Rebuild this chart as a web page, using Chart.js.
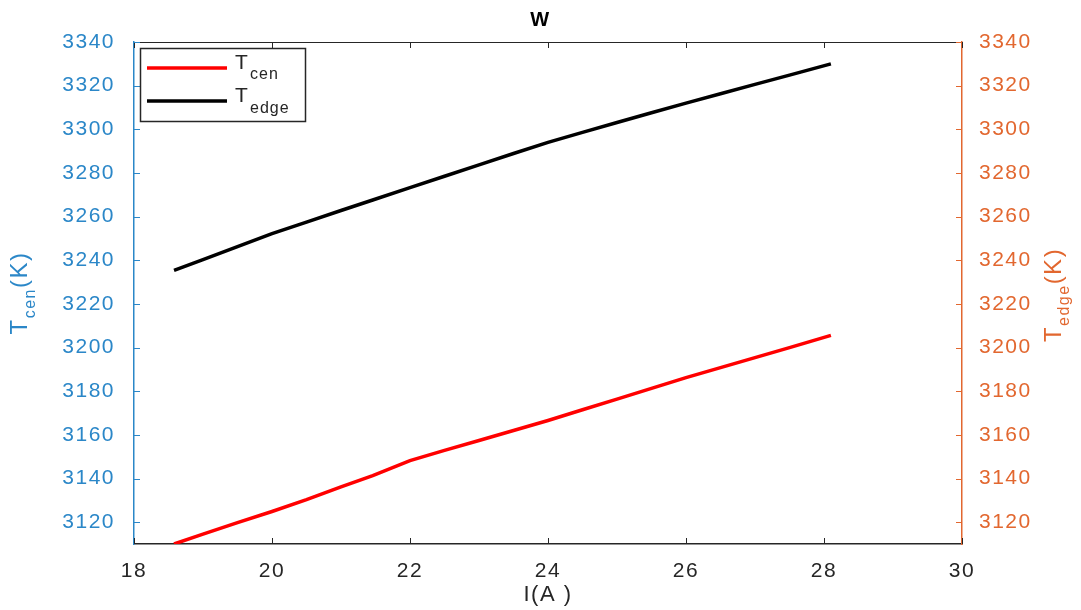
<!DOCTYPE html>
<html>
<head>
<meta charset="utf-8">
<title>W</title>
<script src="https://cdn.jsdelivr.net/npm/chart.js@4.4.1/dist/chart.umd.min.js"></script>
<style>
  html, body { margin: 0; padding: 0; background: #fff; }
  #chart { display: block; }
</style>
</head>
<body>
<canvas id="chart" width="1081" height="610"></canvas>
<script>
// current I(A)
const current = [18.58, 19, 19.5, 20, 20.5, 21, 21.46, 22, 22.5, 23, 23.5, 24, 24.5, 25, 25.5, 26, 26.5, 27, 27.5, 28.1];
// T_cen (K), left axis
const tCen = [3110, 3114.5, 3119.8, 3124.9, 3130.3, 3136.2, 3141.3, 3148.2, 3152.9, 3157.4, 3162.0, 3166.6, 3171.5, 3176.4, 3181.3, 3186.2, 3190.8, 3195.4, 3200.0, 3205.6];
// T_edge (K), right axis
const tEdge = [3235.4, 3240.3, 3246.2, 3252.2, 3257.5, 3262.8, 3267.6, 3273.3, 3278.5, 3283.7, 3288.9, 3294.0, 3298.6, 3303.1, 3307.6, 3312.0, 3316.3, 3320.6, 3324.8, 3330.0];

const xTicks = [18, 20, 22, 24, 26, 28, 30];
const yTicks = [3120, 3140, 3160, 3180, 3200, 3220, 3240, 3260, 3280, 3300, 3320, 3340];

const FONT = '"Liberation Sans", Arial, Helvetica, sans-serif';
const AXIS_GRAY = '#262626';
const LEFT_BLUE = '#2b87c8';
const RIGHT_ORANGE = '#e2672f';

const toPoints = (xs, ys) => xs.map((x, i) => ({x: x, y: ys[i]}));
const setTicks = list => scale => { scale.ticks = list.map(v => ({value: v})); };
const plain = v => String(v);

// draws main + subscript + tail, rotated, centred on (cx, cy)
function drawSubText(ctx, cx, cy, main, sub, tail, color) {
    ctx.save();
    ctx.translate(cx, cy);
    ctx.rotate(-Math.PI / 2);
    ctx.fillStyle = color;
    ctx.textBaseline = 'alphabetic';
    ctx.textAlign = 'left';
    ctx.letterSpacing = '1.5px';
    const big = '24px ' + FONT;
    const small = '16px ' + FONT;
    ctx.font = big;
    const wMain = ctx.measureText(main).width;
    const wTail = ctx.measureText(tail).width;
    ctx.font = small;
    const wSub = ctx.measureText(sub).width;
    let x = -(wMain + wSub + wTail) / 2;
    ctx.font = big;
    ctx.fillText(main, x, 0);
    x += wMain;
    ctx.font = small;
    ctx.fillText(sub, x, 8);
    x += wSub;
    ctx.font = big;
    ctx.fillText(tail, x, 0);
    ctx.restore();
}

const matlabFrame = {
    id: 'matlabFrame',
    beforeDraw(chart) {
        chart.ctx.letterSpacing = '1.5px';
    },
    afterDraw(chart) {
        const ctx = chart.ctx;
        const a = chart.chartArea;
        const xs = chart.scales.x, yl = chart.scales.y, yr = chart.scales.y2;
        const tick = 6;

        ctx.save();
        ctx.lineWidth = 1;
        // top box line
        ctx.strokeStyle = AXIS_GRAY;
        ctx.beginPath();
        ctx.moveTo(a.left, a.top + 0.5);
        ctx.lineTo(a.right, a.top + 0.5);
        ctx.stroke();
        // inward x ticks, bottom and top
        xTicks.forEach(v => {
            const px = Math.round(xs.getPixelForValue(v)) + 0.5;
            ctx.beginPath();
            ctx.moveTo(px, a.bottom);
            ctx.lineTo(px, a.bottom - tick);
            ctx.moveTo(px, a.top);
            ctx.lineTo(px, a.top + tick);
            ctx.stroke();
        });
        // inward y ticks
        yTicks.forEach(v => {
            const py = Math.round(yl.getPixelForValue(v)) + 0.5;
            ctx.strokeStyle = LEFT_BLUE;
            ctx.beginPath();
            ctx.moveTo(a.left, py);
            ctx.lineTo(a.left + tick, py);
            ctx.stroke();
            const pr = Math.round(yr.getPixelForValue(v)) + 0.5;
            ctx.strokeStyle = RIGHT_ORANGE;
            ctx.beginPath();
            ctx.moveTo(a.right, pr);
            ctx.lineTo(a.right - tick, pr);
            ctx.stroke();
        });

        // legend
        ctx.fillStyle = '#fff';
        ctx.fillRect(140, 48, 165, 73);
        ctx.strokeStyle = AXIS_GRAY;
        ctx.lineWidth = 1.5;
        ctx.strokeRect(140.5, 48.5, 165, 73);
        ctx.lineWidth = 3.5;
        ctx.strokeStyle = '#ff0000';
        ctx.beginPath();
        ctx.moveTo(147, 68);
        ctx.lineTo(227, 68);
        ctx.stroke();
        ctx.strokeStyle = '#000';
        ctx.beginPath();
        ctx.moveTo(147, 101);
        ctx.lineTo(227, 101);
        ctx.stroke();

        ctx.fillStyle = AXIS_GRAY;
        ctx.textAlign = 'left';
        ctx.textBaseline = 'alphabetic';
        ctx.letterSpacing = '0px';
        ctx.font = '21px ' + FONT;
        ctx.fillText('T', 235, 69);
        ctx.fillText('T', 235, 102);
        ctx.letterSpacing = '1px';
        ctx.font = '16px ' + FONT;
        ctx.fillText('cen', 250, 79);
        ctx.fillText('edge', 250, 113);
        ctx.restore();

        // axis titles with subscripts
        const cy = (a.top + a.bottom) / 2;
        drawSubText(ctx, 27, cy, 'T', 'cen', '(K)', LEFT_BLUE);
        drawSubText(ctx, 1061, cy + 2, 'T', 'edge', '(K)', RIGHT_ORANGE);
    }
};

new Chart(document.getElementById('chart'), {
    type: 'line',
    data: {
        datasets: [
            {
                label: 'T_cen',
                data: toPoints(current, tCen),
                yAxisID: 'y',
                borderColor: '#ff0000',
                borderWidth: 3.5,
                pointRadius: 0,
                fill: false,
                tension: 0
            },
            {
                label: 'T_edge',
                data: toPoints(current, tEdge),
                yAxisID: 'y2',
                borderColor: '#000000',
                borderWidth: 3.5,
                pointRadius: 0,
                fill: false,
                tension: 0
            }
        ]
    },
    options: {
        responsive: false,
        animation: false,
        devicePixelRatio: 1,
        layout: { padding: 0 },
        plugins: {
            legend: { display: false },
            tooltip: { enabled: false },
            title: {
                display: true,
                text: 'W',
                color: '#000',
                font: { family: FONT, size: 20, weight: 'bold' },
                padding: { top: 8, bottom: 10 }
            }
        },
        scales: {
            x: {
                type: 'linear',
                min: 18,
                max: 30,
                afterBuildTicks: setTicks(xTicks),
                afterFit: s => { s.height = 66; },
                grid: { display: false },
                border: { display: true, color: AXIS_GRAY, width: 1.5 },
                ticks: { color: AXIS_GRAY, font: { family: FONT, size: 21 }, padding: 7, maxRotation: 0, callback: plain },
                title: {
                    display: true,
                    text: 'I(A )',
                    color: AXIS_GRAY,
                    font: { family: FONT, size: 22 },
                    padding: { top: 0, bottom: 2 }
                }
            },
            y: {
                position: 'left',
                min: 3110,
                max: 3340,
                afterBuildTicks: setTicks(yTicks),
                afterFit: s => { s.width = 134; },
                grid: { display: false },
                border: { display: true, color: LEFT_BLUE, width: 1.5 },
                ticks: { color: LEFT_BLUE, font: { family: FONT, size: 21 }, padding: 11, callback: plain }
            },
            y2: {
                position: 'right',
                min: 3110,
                max: 3340,
                afterBuildTicks: setTicks(yTicks),
                afterFit: s => { s.width = 119; },
                grid: { display: false },
                border: { display: true, color: RIGHT_ORANGE, width: 1.5 },
                ticks: { color: RIGHT_ORANGE, font: { family: FONT, size: 21 }, padding: 9, callback: plain }
            }
        }
    },
    plugins: [matlabFrame]
});
</script>
</body>
</html>
